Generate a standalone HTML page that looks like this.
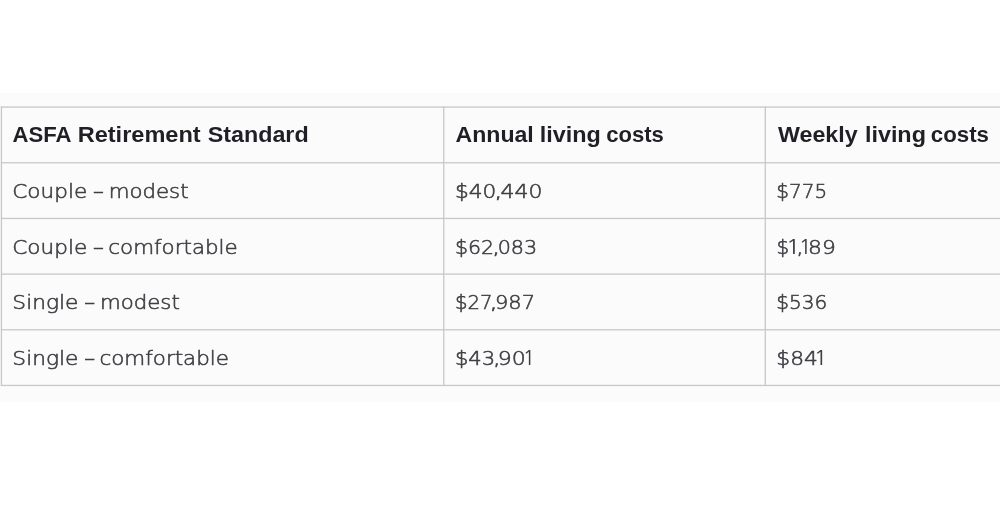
<!DOCTYPE html>
<html lang="en">
<head>
<meta charset="utf-8">
<title>ASFA Retirement Standard</title>
<style>
  html, body { margin: 0; padding: 0; background: #ffffff; }
  body { width: 1000px; height: 523px; overflow: hidden; position: relative;
         font-family: "Liberation Sans", sans-serif; }
  .band { position: absolute; left: 0; top: 93px; width: 1000px; height: 309px; background: #fbfbfb; }
  table { position: absolute; left: 1px; top: 107px; width: 1020px; border-collapse: collapse;
          table-layout: fixed; }
  th, td { border: 1px solid transparent; padding: 0; text-align: left; vertical-align: middle;
           white-space: nowrap; overflow: hidden; box-sizing: border-box; }
  tr { height: 56px; }
  tbody tr:nth-child(1), tbody tr:nth-child(4) { height: 55px; }
  th, td { line-height: 24px; }
  th { font-family: "Liberation Sans", sans-serif; font-weight: 700; font-size: 21.9px; color: #1f1f25;
       -webkit-text-stroke: 0px #fbfbfb; }
  td { font-family: "DejaVu Sans Light", "DejaVu Sans", "Liberation Sans", sans-serif; font-weight: 200; font-size: 19.2px; color: #3e3e43;
       -webkit-text-stroke: 0.55px #3e3e43; }
  col.c1 { width: 442px; } col.c2 { width: 322px; } col.c3 { width: 256px; }
  svg.grid { position: absolute; left: 0; top: 0; }
  span.w { display: inline-block; transform-origin: 0 50%; position: relative; }
  td span.one { font-family: "NanumGothic", "DejaVu Sans Light", "DejaVu Sans", sans-serif; font-size: 19.5px; line-height: 0; -webkit-text-stroke: 0px #3e3e43; }
  th span.w { top: -0.5px; }
  tbody tr:nth-child(1) span.w { top: 1px; }
  tbody tr:nth-child(2) span.w { top: 1.5px; }
  tbody tr:nth-child(3) span.w { top: 0.5px; }
  tbody tr:nth-child(4) span.w { top: 1px; }
</style>
</head>
<body>
<div class="band"></div>
<svg class="grid" width="1000" height="523" viewBox="0 0 1000 523" aria-hidden="true">
  <g fill="#c8c8c8">
    <rect x="0.80" y="106.45" width="1000" height="1.3"/>
    <rect x="0.80" y="162.12" width="1000" height="1.3"/>
    <rect x="0.80" y="217.79" width="1000" height="1.3"/>
    <rect x="0.80" y="273.46" width="1000" height="1.3"/>
    <rect x="0.80" y="329.13" width="1000" height="1.3"/>
    <rect x="0.80" y="384.80" width="1000" height="1.3"/>
    <rect x="0.80" y="106.45" width="1.3" height="279.65"/>
    <rect x="443.10" y="106.45" width="1.3" height="279.65"/>
    <rect x="764.65" y="106.45" width="1.3" height="279.65"/>
  </g>
</svg>
<table>
  <colgroup><col class="c1"><col class="c2"><col class="c3"></colgroup>
  <thead>
    <tr><th><span class="w" style="transform:translateX(0.60px) scaleX(1.0096);margin:0 0.56px 0 10.00px">ASFA</span> <span class="w" style="transform:translateX(0.65px) scaleX(1.0761);margin:0 8.70px 0 -0.03px">Retirement</span> <span class="w" style="transform:translateX(0.70px) scaleX(1.0642);margin:0 6.09px 0 0.86px">Standard</span></th><th><span class="w" style="transform:translateX(0.47px) scaleX(1.0554);margin:0 4.11px 0 11.00px">Annual</span> <span class="w" style="transform:translateX(0.65px) scaleX(1.0682);margin:0 3.90px 0 -0.39px">living</span> <span class="w" style="transform:translateX(0.14px) scaleX(1.0081);margin:0 0.46px 0 -0.16px">costs</span></th><th><span class="w" style="transform:translateX(0.00px) scaleX(1.0613);margin:0 4.60px 0 12.00px">Weekly</span> <span class="w" style="transform:translateX(0.90px) scaleX(1.0673);margin:0 3.85px 0 0.27px">living</span> <span class="w" style="transform:translateX(0.84px) scaleX(1.0162);margin:0 0.93px 0 -1.11px">costs</span></th></tr>
  </thead>
  <tbody>
    <tr><td><span class="w" style="transform:translateX(0.29px) scaleX(1.1253);margin:0 8.35px 0 10.00px">Couple</span> <span class="w" style="transform:translateX(0.94px) scaleX(1.1294);margin:0 1.24px 0 -1.08px">–</span> <span class="w" style="transform:translateX(0.66px) scaleX(1.1111);margin:0 7.99px 0 -0.94px">modest</span></td><td><span class="w" style="transform:translateX(0.89px) scaleX(1.1294);margin:0 4.74px 0 10.00px">$40</span><span class="w" style="transform:translateX(0.06px) scaleX(1.4500);margin:0 2.75px 0 -1.36px">,</span><span class="w" style="transform:translateX(0.43px) scaleX(1.1453);margin:0 5.32px 0 -2.86px">440</span></td><td><span class="w" style="transform:translateX(0.29px) scaleX(1.0448);margin:0 2.19px 0 10.00px">$775</span></td></tr>
    <tr><td><span class="w" style="transform:translateX(0.29px) scaleX(1.1253);margin:0 8.35px 0 10.00px">Couple</span> <span class="w" style="transform:translateX(0.94px) scaleX(1.1294);margin:0 1.24px 0 -1.08px">–</span> <span class="w" style="transform:translateX(0.28px) scaleX(1.1165);margin:0 13.51px 0 -0.94px">comfortable</span></td><td><span class="w" style="transform:translateX(0.97px) scaleX(1.0667);margin:0 2.44px 0 10.00px">$62</span><span class="w" style="transform:translateX(0.66px) scaleX(1.4500);margin:0 2.75px 0 -2.06px">,</span><span class="w" style="transform:translateX(0.65px) scaleX(1.0815);margin:0 2.98px 0 -2.86px">083</span></td><td><span class="w" style="transform:translateX(0.41px) scaleX(1.0359);margin:0 0.44px 0 10.00px">$</span><span class="w one" style="transform:translateX(0.46px) scaleX(1.2889);margin:0 3.42px 0 -3.66px">1</span><span class="w" style="transform:translateX(0.02px) scaleX(1.3000);margin:0 1.83px 0 -4.23px">,</span><span class="w one" style="transform:translateX(0.38px) scaleX(1.1333);margin:0 1.58px 0 -5.94px">1</span><span class="w" style="transform:translateX(0.10px) scaleX(1.1349);margin:0 3.29px 0 -3.41px">89</span></td></tr>
    <tr><td><span class="w" style="transform:translateX(0.33px) scaleX(1.1339);margin:0 7.81px 0 10.00px">Single</span> <span class="w" style="transform:translateX(0.18px) scaleX(1.1353);margin:0 1.30px 0 -0.23px">–</span> <span class="w" style="transform:translateX(0.96px) scaleX(1.1097);margin:0 7.89px 0 -2.00px">modest</span></td><td><span class="w" style="transform:translateX(0.02px) scaleX(1.0252);margin:0 0.92px 0 11.00px">$27</span><span class="w" style="transform:translateX(0.26px) scaleX(1.4500);margin:0 2.75px 0 -3.53px">,</span><span class="w" style="transform:translateX(0.96px) scaleX(1.0925);margin:0 3.39px 0 -3.86px">987</span></td><td><span class="w" style="transform:translateX(0.29px) scaleX(1.0443);margin:0 2.16px 0 10.00px">$536</span></td></tr>
    <tr><td><span class="w" style="transform:translateX(0.33px) scaleX(1.1339);margin:0 7.81px 0 10.00px">Single</span> <span class="w" style="transform:translateX(0.18px) scaleX(1.1353);margin:0 1.30px 0 -0.23px">–</span> <span class="w" style="transform:translateX(0.48px) scaleX(1.1165);margin:0 13.51px 0 -2.00px">comfortable</span></td><td><span class="w" style="transform:translateX(0.93px) scaleX(1.0993);margin:0 3.64px 0 10.00px">$43</span><span class="w" style="transform:translateX(0.74px) scaleX(1.3500);margin:0 2.14px 0 -2.25px">,</span><span class="w" style="transform:translateX(0.78px) scaleX(1.1488);margin:0 3.63px 0 -3.23px">90</span><span class="w one" style="transform:translateX(0.51px) scaleX(1.0889);margin:0 1.05px 0 -3.05px">1</span></td><td><span class="w" style="transform:translateX(0.28px) scaleX(1.1358);margin:0 4.97px 0 10.00px">$84</span><span class="w one" style="transform:translateX(0.60px) scaleX(1.2000);margin:0 2.37px 0 -4.59px">1</span></td></tr>
  </tbody>
</table>
</body>
</html>
